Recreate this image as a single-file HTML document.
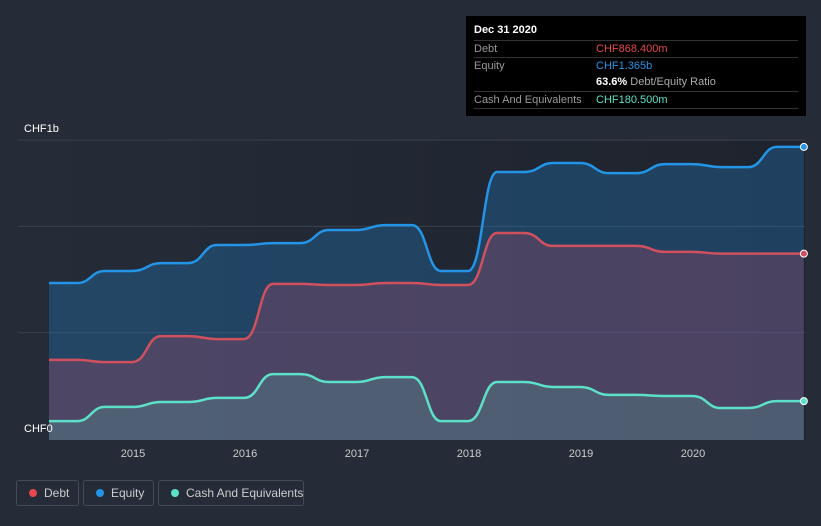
<!DOCTYPE html>
<html><head><meta charset="utf-8"><style>
html,body{margin:0;padding:0;background:#252c38;width:821px;height:526px;overflow:hidden;font-family:"Liberation Sans",sans-serif}
#tip{position:absolute;left:466px;top:16px;width:340px;height:100px;background:#000;color:#fff;font-size:11px}
#tip .r{position:absolute;left:8px;right:8px;border-top:1px solid #333;height:17px;line-height:17px}
#tip .l{color:#999;position:absolute;left:0}
#tip .v{position:absolute;left:122px}
.leg{position:absolute;top:480px;height:26px;border:1px solid #444b57;border-radius:3px;color:#ccc;font-size:12px;line-height:24px;box-sizing:border-box;padding-left:27px;white-space:nowrap}
.leg i{position:absolute;left:12px;top:8px;width:8px;height:8px;border-radius:50%}
</style></head><body>
<svg id="c" width="821" height="526" style="position:absolute;left:0;top:0">
<defs><linearGradient id="bg" x1="0" x2="1"><stop offset="0" stop-color="#252c38"/><stop offset="1" stop-color="#1e232d"/></linearGradient></defs>
<rect x="18" y="140" width="787" height="300" fill="url(#bg)"/>
<g id="grid"></g><g id="areas"></g><g id="xt"></g>
<text x="24" y="132" fill="#fff" font-size="11">CHF1b</text>
<text x="24" y="432" fill="#fff" font-size="11">CHF0</text>
</svg>
<div id="tip">
<div style="position:absolute;left:8px;top:8px;font-weight:bold">Dec 31 2020</div>
<div class="r" style="top:24px"><span class="l">Debt</span><span class="v" style="color:#e5484d">CHF868.400m</span></div>
<div class="r" style="top:41px"><span class="l">Equity</span><span class="v" style="color:#2394e6">CHF1.365b</span></div>
<div class="r" style="top:58px;border-top:none"><span class="v"><b>63.6%</b> <span style="color:#aaa">Debt/Equity Ratio</span></span></div>
<div class="r" style="top:75px"><span class="l">Cash And Equivalents</span><span class="v" style="color:#5de0c8">CHF180.500m</span></div>
<div class="r" style="top:92px;height:0"></div>
</div>
<div class="leg" style="left:16px;width:63px"><i style="background:#e5484d"></i>Debt</div>
<div class="leg" style="left:83px;width:71px"><i style="background:#2394e6"></i>Equity</div>
<div class="leg" style="left:158px;width:146px"><i style="background:#5de0c8"></i>Cash And Equivalents</div>
<script>
const periodEnds=[2014.5,2015,2015.5,2016,2016.5,2017,2017.5,2018,2018.5,2019,2019.5,2020,2020.5,2021];
const equity=[731,787,824,908,917,978,1001,787,1248,1290,1243,1285,1271,1365];
const debt=[373,363,484,470,727,722,731,722,964,904,904,876,868,868];
const cash=[88,154,177,196,307,270,293,88,270,247,210,205,149,181];
const xTicks=[2015,2016,2017,2018,2019,2020];
const gridVals=[1397,995,500];
const X=t=>133+(t-2015)*112, Y=v=>440-v*0.2147;
const NS='http://www.w3.org/2000/svg';
function mk(tag,at,parent){const e=document.createElementNS(NS,tag);for(const k in at)e.setAttribute(k,at[k]);document.getElementById(parent).appendChild(e);return e;}
gridVals.forEach(v=>{const l=mk('line',{x1:18,x2:805,y1:Y(v),y2:Y(v),stroke:'#3a414c','stroke-width':1},'grid');

});
xTicks.forEach(t=>{const e=mk('text',{x:X(t),y:457,fill:'#ccc','font-size':11,'text-anchor':'middle'},'xt');e.textContent=t;

});
function pathFor(vals){
  let d='M'+X(2014.25)+','+Y(vals[0])+' L'+X(periodEnds[0])+','+Y(vals[0]);
  for(let i=1;i<vals.length;i++){
    const x0=X(periodEnds[i-1]),x1=X(periodEnds[i]-0.25),y0=Y(vals[i-1]),y1=Y(vals[i]),m=(x0+x1)/2;
    d+=' C'+m+','+y0+' '+m+','+y1+' '+x1+','+y1+' L'+X(periodEnds[i]-0.01)+','+y1;
  }
  return d;
}
function series(vals,col,fill,name){
  const d=pathFor(vals);
  const a=mk('path',{d:d+' L'+X(2020.99)+',440 L'+X(2014.25)+',440 Z',fill:fill},'areas');
  
  
  const l=mk('path',{d:d,fill:'none',stroke:col,'stroke-width':2.5},'areas');
  
  
  const c=mk('circle',{cx:X(2020.99),cy:Y(vals[vals.length-1]),r:3.5,fill:col,stroke:'#fff','stroke-width':1},'areas');
  
  
}
series(equity,'#2394e6','rgba(35,120,190,0.35)','equity');
series(debt,'#d0505e','rgba(140,70,100,0.4)','debt');
series(cash,'#5de0c8','rgba(93,200,180,0.2)','cash');
</script>
</body></html>
